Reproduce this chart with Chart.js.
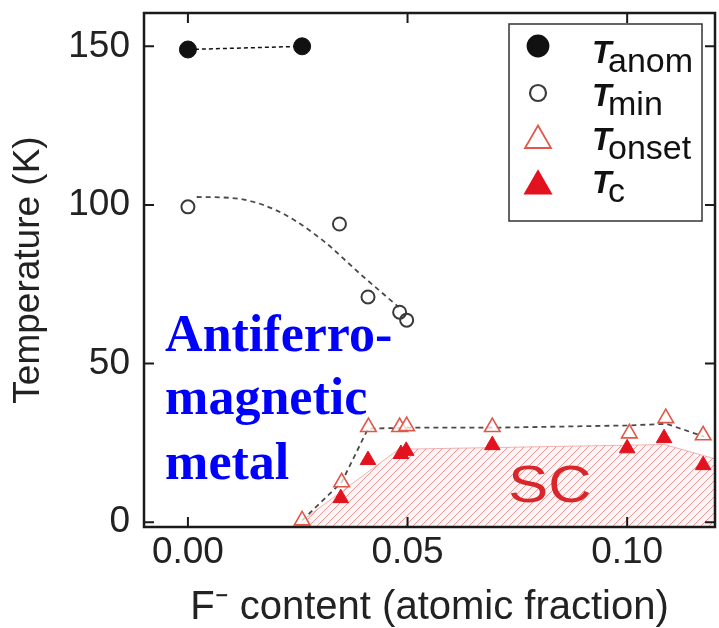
<!DOCTYPE html>
<html>
<head>
<meta charset="utf-8">
<script src="https://cdn.jsdelivr.net/npm/chart.js@4.4.1/dist/chart.umd.min.js"></script>
<style>
  html, body { margin: 0; padding: 0; background: #fff; }
  #wrap { width: 719px; height: 628px; }
</style>
</head>
<body>
<div id="wrap"><canvas id="chart" width="719" height="628"></canvas></div>
<script>
// F- content (atomic fraction) vs temperature (K)
const anomX = [0.0, 0.026];
const anomY = [149, 150];

const minX = [0.0, 0.0345, 0.041, 0.0482, 0.0498];
const minY = [99.4, 94, 71, 66.2, 63.7];
// dashed guide drawn through T_min
const minFitX = [0.002, 0.01, 0.02, 0.03, 0.04, 0.048];
const minFitY = [102.5, 102.2, 98.4, 89.6, 77.3, 67.8];

const onsetX = [0.026, 0.035, 0.0411, 0.0482, 0.0498, 0.0693, 0.1005, 0.1088, 0.1173];
const onsetY = [0.6, 12.6, 30, 30, 30.3, 30, 28, 32.8, 27.4];
// dashed guide drawn through T_onset
const onsetFitX = [0.026, 0.035, 0.041, 0.05, 0.07, 0.10, 0.109, 0.1175];
const onsetFitY = [0.6, 12.6, 29.5, 29.8, 29.8, 30.5, 31, 27];

const tcX = [0.0348, 0.041, 0.0485, 0.0497, 0.0693, 0.1, 0.1084, 0.1173];
const tcY = [7.6, 19.6, 21.5, 22.5, 24.3, 23.3, 26.5, 18];

// outline of the hatched SC dome (closed along the x axis)
const scX = [0.0255, 0.048, 0.1085, 0.12, 0.12, 0.0255];
const scY = [0, 23, 24.5, 20, -1.5, -1.5];

const xTicks = [0, 0.05, 0.10];
const yTicks = [0, 50, 100, 150];
const legendSubs = ['anom', 'min', 'onset', 'c'];

const afmLines = ['Antiferro-', 'magnetic', 'metal'];
const afmX = -0.0052;
const afmY = [54, 34, 13.6];

const FONT = "'Liberation Sans', Arial, Helvetica, sans-serif";
const pts = (xs, ys) => xs.map((x, i) => ({ x: x, y: ys[i] }));

//draw a marker the same way as chart.js does
function marker(ctx, style, x, y, r, fill, stroke, lw) {
  ctx.beginPath();
  if (style === 'triangle') {
    let a = 0;
    ctx.moveTo(x + Math.sin(a) * r, y - Math.cos(a) * r);
    a += 2 * Math.PI / 3;
    ctx.lineTo(x + Math.sin(a) * r, y - Math.cos(a) * r);
    a += 2 * Math.PI / 3;
    ctx.lineTo(x + Math.sin(a) * r, y - Math.cos(a) * r);
    ctx.closePath();
  } else {
    ctx.arc(x, y, r, 0, Math.PI * 2);
  }
  ctx.fillStyle = fill;
  ctx.fill();
  ctx.lineWidth = lw;
  ctx.strokeStyle = stroke;
  ctx.stroke();
}

// hatch inside the SC outline, using the element positions chart.js computed
const hatchPlugin = {
  id: 'hatch',
  beforeDatasetsDraw(chart) {
    const { ctx, chartArea: a } = chart;
    const idx = chart.data.datasets.findIndex(d => d.label === 'SC');
    const els = chart.getDatasetMeta(idx).data;
    ctx.save();
    ctx.beginPath();
    ctx.rect(a.left, a.top, a.right - a.left, a.bottom - a.top);
    ctx.clip();
    ctx.beginPath();
    els.forEach((p, i) => (i ? ctx.lineTo(p.x, p.y) : ctx.moveTo(p.x, p.y)));
    ctx.closePath();
    ctx.clip();
    ctx.fillStyle = 'rgba(250,225,225,0.35)';
    ctx.fill();
    ctx.strokeStyle = 'rgba(222,90,90,0.6)';
    ctx.lineWidth = 1;
    ctx.beginPath();
    for (let s = a.left - 300; s < a.right + 300; s += 8) {
      ctx.moveTo(s, a.bottom);
      ctx.lineTo(s + 300, a.bottom - 300);
    }
    ctx.stroke();
    ctx.restore();
  }
};

const framePlugin = {
  id: 'frame',
  afterDatasetsDraw(chart) {
    const { ctx, chartArea: a, scales: { x, y } } = chart;
    ctx.save();
    ctx.strokeStyle = '#1a1a1a';
    ctx.lineWidth = 2.5;
    ctx.strokeRect(a.left, a.top, a.right - a.left, a.bottom - a.top);
    ctx.lineWidth = 2;
    ctx.beginPath();
    xTicks.forEach(v => {
      const px = x.getPixelForValue(v);
      ctx.moveTo(px, a.bottom); ctx.lineTo(px, a.bottom - 10);
      ctx.moveTo(px, a.top); ctx.lineTo(px, a.top + 10);
    });
    yTicks.forEach(v => {
      const py = y.getPixelForValue(v);
      ctx.moveTo(a.left, py); ctx.lineTo(a.left + 10, py);
      ctx.moveTo(a.right, py); ctx.lineTo(a.right - 10, py);
    });
    ctx.stroke();
    ctx.restore();
  }
};

const notesPlugin = {
  id: 'notes',
  afterDraw(chart) {
    const { ctx, chartArea: a, scales: { x, y } } = chart;
    ctx.save();

    //SC label, drawn a bit wider like the original
    ctx.fillStyle = '#d8262a';
    ctx.font = '52px ' + FONT;
    ctx.textAlign = 'center';
    ctx.textBaseline = 'alphabetic';
    ctx.translate(x.getPixelForValue(0.0824), y.getPixelForValue(6.4));
    ctx.scale(1.15, 1);
    ctx.fillText('SC', 0, 0);
    ctx.setTransform(1, 0, 0, 1, 0, 0);

    //blue phase label
    ctx.fillStyle = '#0000ff';
    ctx.font = "bold 52px 'Liberation Serif', 'Times New Roman', serif";
    ctx.textAlign = 'left';
    afmLines.forEach((t, i) => {
      ctx.fillText(t, x.getPixelForValue(afmX), y.getPixelForValue(afmY[i]));
    });

    //legend box
    const bx = a.right - 206, by = a.top + 11, bw = 193, bh = 197;
    ctx.fillStyle = '#fff';
    ctx.fillRect(bx, by, bw, bh);
    ctx.strokeStyle = '#333';
    ctx.lineWidth = 1.5;
    ctx.strokeRect(bx, by, bw, bh);

    const ds = chart.data.datasets;
    const rowMarker = [22, 69, 116.5, 162];
    const rowText = [39, 82, 126, 169];
    const sizes = [10.5, 8, 15, 15];
    legendSubs.forEach((sub, i) => {
      const d = ds[i];
      marker(ctx, d.pointStyle, bx + 29, by + rowMarker[i], sizes[i],
        d.pointBackgroundColor === 'rgba(255,255,255,0)' ? '#fff' : d.pointBackgroundColor,
        d.pointBorderColor, i === 1 ? 2.2 : 1.8);
      ctx.fillStyle = '#111';
      ctx.font = 'italic bold 32px ' + FONT;
      ctx.fillText('T', bx + 83, by + rowText[i]);
      ctx.font = '34px ' + FONT;
      ctx.fillText(sub, bx + 99, by + rowText[i] + 9);
    });
    ctx.restore();
  }
};

// keep the plot frame where it is in the figure
const fixBox = (s, size) => {
  if (s.isHorizontal()) s.height = size; else s.width = size;
  s.paddingTop = 0; s.paddingBottom = 0; s.paddingLeft = 0; s.paddingRight = 0;
};

new Chart(document.getElementById('chart'), {
  type: 'scatter',
  data: {
    datasets: [
      { label: 'T_anom', data: pts(anomX, anomY), showLine: true, borderColor: '#111', borderWidth: 1.5, borderDash: [4, 3],
        pointStyle: 'circle', pointRadius: 8.5, pointBackgroundColor: '#111', pointBorderColor: '#111', pointBorderWidth: 1, order: 1 },
      { label: 'T_min', data: pts(minX, minY), showLine: false,
        pointStyle: 'circle', pointRadius: 6.5, pointBackgroundColor: 'rgba(255,255,255,0)', pointBorderColor: '#3a3a3a', pointBorderWidth: 2, order: 1 },
      { label: 'T_onset', data: pts(onsetX, onsetY), showLine: false,
        pointStyle: 'triangle', pointRadius: 9, pointBackgroundColor: 'rgba(255,255,255,0.75)', pointBorderColor: '#e05848', pointBorderWidth: 1.6, order: 2 },
      { label: 'T_c', data: pts(tcX, tcY), showLine: false,
        pointStyle: 'triangle', pointRadius: 9, pointBackgroundColor: '#e2121e', pointBorderColor: '#e2121e', pointBorderWidth: 1, order: 1 },
      { label: 'min guide', data: pts(minFitX, minFitY), showLine: true, pointRadius: 0,
        borderColor: '#4a4a4a', borderWidth: 1.8, borderDash: [5, 4], cubicInterpolationMode: 'monotone', order: 5 },
      { label: 'onset guide', data: pts(onsetFitX, onsetFitY), showLine: true, pointRadius: 0,
        borderColor: '#4a4a4a', borderWidth: 1.8, borderDash: [5, 4], tension: 0, order: 5 },
      { label: 'SC', data: pts(scX, scY), showLine: true, pointRadius: 0,
        borderColor: 'rgba(232,130,130,0.6)', borderWidth: 1, fill: false, order: 10 }
    ]
  },
  options: {
    responsive: false,
    animation: false,
    events: [],
    layout: { autoPadding: false, padding: { left: 0, top: 13, right: 4, bottom: 0 } },
    plugins: { legend: { display: false }, tooltip: { enabled: false } },
    scales: {
      x: {
        type: 'linear', min: -0.01, max: 0.12,
        afterBuildTicks: s => { s.ticks = xTicks.map(v => ({ value: v })); },
        afterFit: s => fixBox(s, 101),
        grid: { display: false, drawTicks: false },
        border: { display: false },
        ticks: { callback: v => v.toFixed(2), font: { family: FONT, size: 37 }, color: '#222', padding: 4, maxRotation: 0 },
        title: { display: true, text: 'F\u207B content (atomic fraction)', color: '#222',
          font: { family: FONT, size: 40, lineHeight: 1 }, padding: { top: 0, bottom: 0 } }
      },
      y: {
        type: 'linear', min: -1.5, max: 160.5,
        afterBuildTicks: s => { s.ticks = yTicks.map(v => ({ value: v })); },
        afterFit: s => fixBox(s, 144),
        grid: { display: false, drawTicks: false },
        border: { display: false },
        ticks: { font: { family: FONT, size: 37 }, color: '#222', padding: 14 },
        title: { display: true, text: 'Temperature (K)', color: '#222',
          font: { family: FONT, size: 37 }, padding: { top: 7, bottom: 0 } }
      }
    }
  },
  plugins: [hatchPlugin, framePlugin, notesPlugin]
});
</script>
</body>
</html>
